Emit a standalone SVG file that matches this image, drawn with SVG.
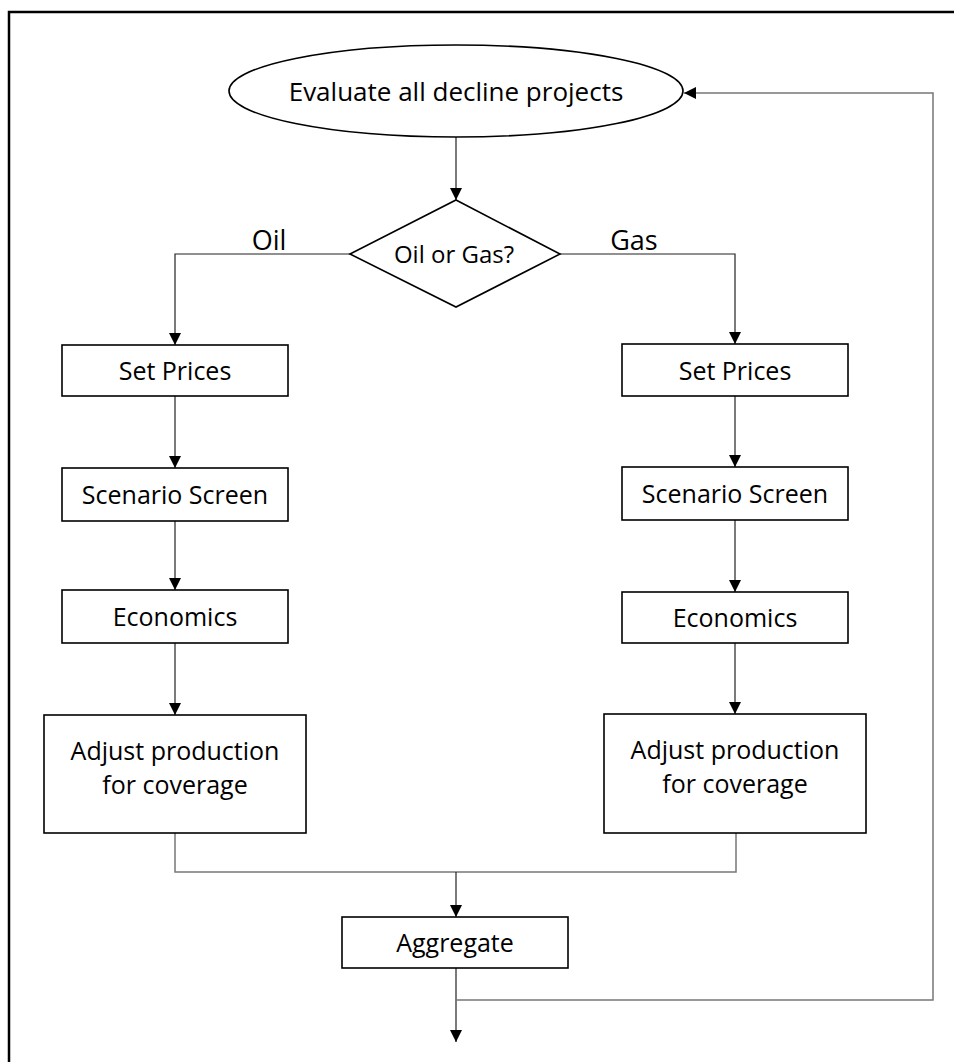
<svg xmlns="http://www.w3.org/2000/svg" width="954" height="1062" viewBox="0 0 954 1062">
<style>
.t{font-family:"Open Sans","Noto Sans",sans-serif;fill:#000;text-anchor:middle}
.box{fill:#fff;stroke:#000;stroke-width:1.6}
.c{fill:none;stroke:#222;stroke-width:1.2}
.g{fill:none;stroke:#777;stroke-width:1.5}
</style>
<defs>
<marker id="ah" markerUnits="userSpaceOnUse" markerWidth="12" markerHeight="12" viewBox="0 0 12 12" refX="12" refY="6" orient="auto">
<path d="M0,0 L12,6 L0,12 Z" fill="#000"/>
</marker>
</defs>
<rect x="9" y="12" width="960" height="1070" fill="#fff" stroke="#000" stroke-width="2.5"/>
<g id="connectors">
<path class="c" d="M456,137 V200" marker-end="url(#ah)"/>
<path class="c" d="M350,254 H175 V345" marker-end="url(#ah)"/>
<path class="c" d="M560,254 H735 V344" marker-end="url(#ah)"/>
<path class="c" d="M175,396 V468" marker-end="url(#ah)"/>
<path class="c" d="M175,521 V590" marker-end="url(#ah)"/>
<path class="c" d="M175,643 V715" marker-end="url(#ah)"/>
<path class="c" d="M735,396 V467" marker-end="url(#ah)"/>
<path class="c" d="M735,520 V592" marker-end="url(#ah)"/>
<path class="c" d="M735,643 V714" marker-end="url(#ah)"/>
<path class="g" d="M175,833 V872 H736 V833"/>
<path class="c" d="M456,872 V917" marker-end="url(#ah)"/>
<path class="c" d="M456,968 V1042" marker-end="url(#ah)"/>
<path class="g" d="M456,1000 H933 V93 H684" marker-end="url(#ah)"/>
</g>
<g id="start">
<ellipse cx="456" cy="91" rx="227" ry="46" fill="#fff" stroke="#000" stroke-width="1.6"/>
<text class="t" x="456" y="101" font-size="26">Evaluate all decline projects</text>
</g>
<g id="decision">
<polygon points="456,200 560,254 456,307 350,254" fill="#fff" stroke="#000" stroke-width="1.6"/>
<text class="t" x="454" y="263" font-size="24">Oil or Gas?</text>
</g>
<g id="label-oil"><text class="t" x="269" y="250" font-size="27">Oil</text></g>
<g id="label-gas"><text class="t" x="634" y="250" font-size="27">Gas</text></g>
<g id="oil-prices"><rect class="box" x="62" y="345" width="226" height="51"/><text class="t" x="175" y="380" font-size="25">Set Prices</text></g>
<g id="oil-scenario"><rect class="box" x="62" y="468" width="226" height="53"/><text class="t" x="175" y="504" font-size="25">Scenario Screen</text></g>
<g id="oil-econ"><rect class="box" x="62" y="590" width="226" height="53"/><text class="t" x="175" y="626" font-size="25">Economics</text></g>
<g id="oil-adjust"><rect class="box" x="44" y="715" width="262" height="118"/><text class="t" x="175" y="760" font-size="25">Adjust production</text><text class="t" x="175" y="794" font-size="25">for coverage</text></g>
<g id="gas-prices"><rect class="box" x="622" y="344" width="226" height="52"/><text class="t" x="735" y="380" font-size="25">Set Prices</text></g>
<g id="gas-scenario"><rect class="box" x="622" y="467" width="226" height="53"/><text class="t" x="735" y="503" font-size="25">Scenario Screen</text></g>
<g id="gas-econ"><rect class="box" x="622" y="592" width="226" height="51"/><text class="t" x="735" y="627" font-size="25">Economics</text></g>
<g id="gas-adjust"><rect class="box" x="604" y="714" width="262" height="119"/><text class="t" x="735" y="759" font-size="25">Adjust production</text><text class="t" x="735" y="793" font-size="25">for coverage</text></g>
<g id="aggregate"><rect class="box" x="342" y="917" width="226" height="51"/><text class="t" x="455" y="952" font-size="25">Aggregate</text></g>
</svg>
